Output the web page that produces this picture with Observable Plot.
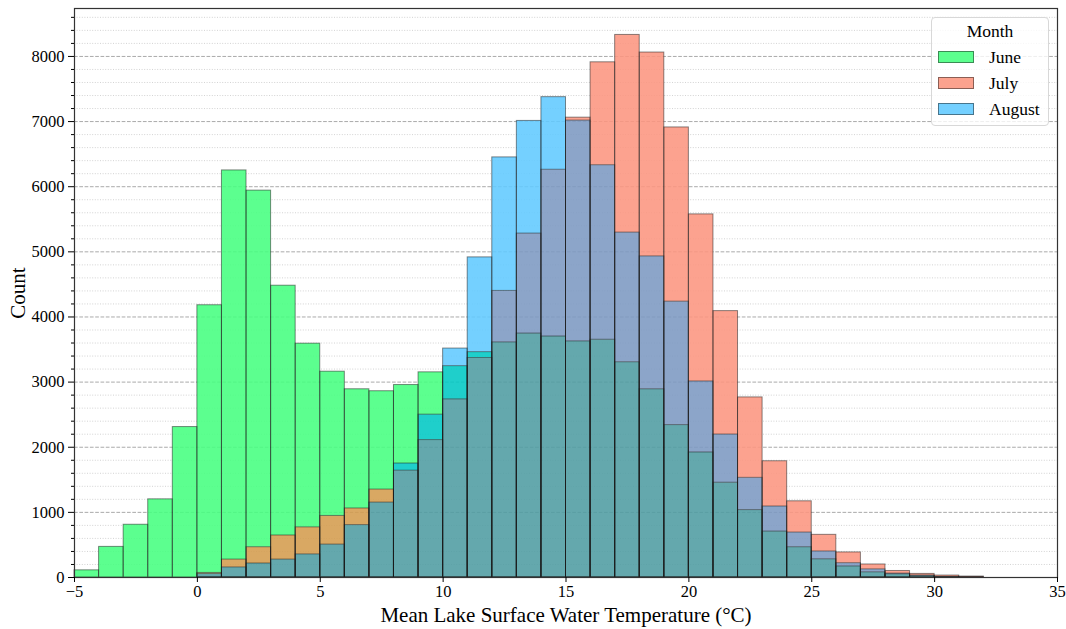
<!DOCTYPE html>
<html>
<head>
<meta charset="utf-8">
<script src="https://cdn.jsdelivr.net/npm/d3@7"></script>
<script src="https://cdn.jsdelivr.net/npm/@observablehq/plot@0.6"></script>
<style>
  body { margin: 0; background: #fff; }
  #chart { position: relative; width: 1066px; height: 629px; }
  #chart svg { display: block; }
  .legend {
    position: absolute; left: 931px; top: 17px; width: 118px; height: 109px;
    box-sizing: border-box; border: 1px solid #d8d8d8; border-radius: 4px;
    background: rgba(255,255,255,0.8);
    font-family: "Liberation Serif", "Times New Roman", serif; font-size: 17.5px; color: #000;
  }
  .legend .title { position: absolute; left: 0; right: 0; top: 3px; text-align: center; }
  .legend .item { position: absolute; left: 6px; height: 20px; line-height: 20px; }
  .legend .sw { position: absolute; left: 0; top: 3px; width: 36px; height: 12px; box-sizing: border-box; }
  .legend .lab { position: absolute; left: 51px; top: -1px; white-space: nowrap; }
</style>
</head>
<body>
<div id="chart"></div>
<script>
// Left edges of the 1 °C temperature bins
const binLeft = [-5,-4,-3,-2,-1,0,1,2,3,4,5,6,7,8,9,10,11,12,13,14,15,16,17,18,19,20,21,22,23,24,25,26,27,28,29,30,31];
const binWidth = 1;

// Lake counts per bin for each month
const june   = [110,470,810,1200,2310,4180,6250,5940,4480,3590,3160,2890,2860,2955,3150,3245,3460,3610,3745,3700,3625,3650,3305,2890,2340,1920,1455,1035,705,465,280,170,80,50,25,8,3];
const july   = [0,0,0,0,0,70,275,465,645,770,945,1060,1350,1640,2110,2735,3370,4400,5280,6260,7060,7910,8330,8060,6910,5575,4090,2765,1785,1170,655,385,200,100,55,30,15];
const august = [0,0,0,0,0,55,155,215,275,355,505,805,1150,1750,2500,3515,4915,6450,7010,7375,7015,6330,5295,4930,4235,3010,2195,1530,1090,690,400,220,125,60,30,10,3];

const monthNames = ["June", "July", "August"];
const monthKeys  = ["J", "L", "A"];

// Shade of each overlap of the translucent month layers (as seen on white)
const overlapColors = {
  J:   "#5cff8e",
  L:   "#fca28e",
  A:   "#74d0ff",
  JL:  "#d9a862",
  JA:  "#00cfcb",
  LA:  "#8ca4c9",
  JLA: "#64a8ad"
};
const fillAlpha = 0.88;
const edgeColor = "#1a1a1a";
const edgeAlpha = 0.5;

const xTicks = [-5, 0, 5, 10, 15, 20, 25, 30, 35];
const yTicks = [0, 1000, 2000, 3000, 4000, 5000, 6000, 7000, 8000];
const yMinor = d3.range(0, 8800, 200).filter(v => v % 1000 !== 0);

// Fill that gives the wanted shade once drawn at fillAlpha over white
function baseFill(hex) {
  const c = d3.rgb(hex);
  const f = v => Math.max(0, Math.min(255, (v - 255 * (1 - fillAlpha)) / fillAlpha));
  return d3.rgb(f(c.r), f(c.g), f(c.b)).formatHex();
}

const series = [june, july, august];

// Split every bin into bands by how many months reach that height
const bands = [];
binLeft.forEach((x, j) => {
  const vals = series.map(s => s[j]);
  const levels = [...new Set(vals.filter(v => v > 0))].sort((a, b) => a - b);
  let lo = 0;
  for (const hi of levels) {
    const combo = monthKeys.filter((k, i) => vals[i] >= hi).join("");
    bands.push({x1: x, x2: x + binWidth, y1: lo, y2: hi, combo});
    lo = hi;
  }
});

// Outline of every month's bar
const outlines = monthNames.map((name, i) =>
  binLeft.map((x, j) => ({month: name, x1: x, x2: x + binWidth, count: series[i][j]}))
         .filter(d => d.count > 0)
);

const chart = Plot.plot({
  width: 1066,
  height: 629,
  marginLeft: 74,
  marginRight: 9,
  marginTop: 8,
  marginBottom: 52,
  x: {domain: [-5, 35]},
  y: {domain: [0, 8736]},
  style: {fontFamily: "'Liberation Serif', 'Times New Roman', serif", fontSize: "16.5px", color: "#000", background: "#fff"},
  marks: [
    Plot.ruleY(yMinor, {stroke: "#c8c8c8", strokeWidth: 0.8, strokeDasharray: "1,1.6"}),
    Plot.ruleY(yTicks.slice(1), {stroke: "#aaaaaa", strokeWidth: 1, strokeDasharray: "3.7,1.6"}),
    Plot.rect(bands, {
      x1: "x1", x2: "x2", y1: "y1", y2: "y2",
      fill: d => baseFill(overlapColors[d.combo]), fillOpacity: fillAlpha
    }),
    ...outlines.map(rows => Plot.rect(rows, {
      x1: "x1", x2: "x2", y1: () => 0, y2: "count",
      fill: "none", stroke: edgeColor, strokeOpacity: edgeAlpha, strokeWidth: 1
    })),
    Plot.frame({stroke: "#333", strokeWidth: 1.2}),
    Plot.axisX({ticks: xTicks, tickSize: 5, tickPadding: 3, label: null}),
    Plot.axisY({ticks: yTicks, tickSize: 6, tickPadding: 4, tickFormat: d3.format("d"), label: null}),
    Plot.axisY({ticks: yMinor, tickSize: 3, tickFormat: () => "", label: null}),
    Plot.text(["Mean Lake Surface Water Temperature (°C)"], {frameAnchor: "bottom", dy: 44, fontSize: 21}),
    Plot.text(["Count"], {frameAnchor: "left", dx: -56, rotate: -90, textAnchor: "middle", fontSize: 21})
  ]
});

const host = document.getElementById("chart");
host.appendChild(chart);

// Legend box in the upper right corner of the plot area
const legend = document.createElement("div");
legend.className = "legend";
legend.innerHTML = `<div class="title">Month</div>` + monthNames.map((name, i) =>
  `<div class="item" style="top:${30 + i * 26}px"><span class="sw" style="background:${overlapColors[monthKeys[i]]};border:1px solid rgba(26,26,26,${edgeAlpha})"></span><span class="lab">${name}</span></div>`
).join("");
host.appendChild(legend);
</script>
</body>
</html>
